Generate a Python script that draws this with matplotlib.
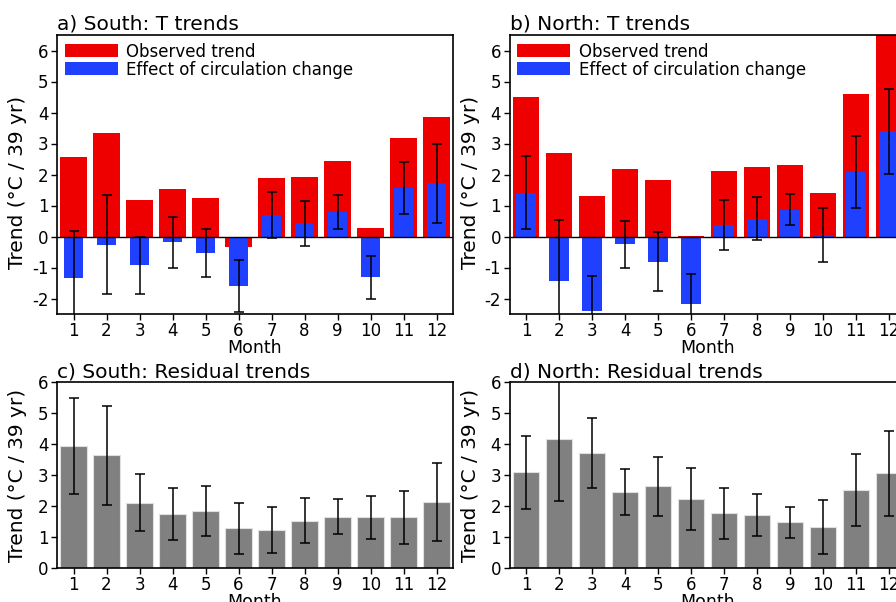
import matplotlib
matplotlib.use("Agg")
import matplotlib.pyplot as plt
import numpy as np

months = list(range(1, 13))
month_labels = [str(m) for m in months]

# Panel a: South T trends
south_obs = [2.55, 3.34, 1.17, 1.53, 1.25, -0.33, 1.88, 1.93, 2.42, 0.28, 3.19, 3.84]
south_circ = [-1.35, -0.27, -0.93, -0.19, -0.53, -1.59, 0.70, 0.42, 0.79, -1.32, 1.56, 1.71]
south_circ_err = [1.53, 1.60, 0.92, 0.83, 0.78, 0.83, 0.75, 0.72, 0.56, 0.70, 0.83, 1.26]

# Panel b: North T trends
north_obs = [4.50, 2.70, 1.32, 2.18, 1.81, 0.03, 2.12, 2.25, 2.32, 1.40, 4.60, 6.80]
north_circ = [1.41, -1.43, -2.39, -0.25, -0.81, -2.17, 0.37, 0.58, 0.86, 0.05, 2.09, 3.40]
north_circ_err = [1.18, 1.96, 1.13, 0.75, 0.94, 0.97, 0.82, 0.68, 0.50, 0.87, 1.16, 1.37]

# Panel c: South residual trends
south_resid = [3.94, 3.63, 2.11, 1.74, 1.83, 1.28, 1.22, 1.53, 1.65, 1.63, 1.63, 2.13]
south_resid_err = [1.55, 1.60, 0.93, 0.83, 0.80, 0.83, 0.75, 0.73, 0.56, 0.69, 0.84, 1.27]

# Panel d: North residual trends
north_resid = [3.09, 4.15, 3.71, 2.44, 2.63, 2.23, 1.76, 1.70, 1.47, 1.33, 2.53, 3.05]
north_resid_err = [1.18, 1.98, 1.14, 0.74, 0.95, 1.00, 0.83, 0.68, 0.49, 0.87, 1.16, 1.36]

RED = "#ee0000"
BLUE = "#2040ff"
GRAY = "#808080"
ylab = "Trend (°C / 39 yr)"

fig = plt.figure(figsize=(8.96, 6.02), dpi=100)
W, H = 896.0, 602.0

def add_ax(left, top, right, bottom):
    return fig.add_axes([left / W, 1 - bottom / H, (right - left) / W, (bottom - top) / H])

ax_a = add_ax(57, 35, 453, 314)
ax_b = add_ax(509.5, 35, 905.5, 314)
ax_c = add_ax(57, 382, 453, 568)
ax_d = add_ax(509.5, 382, 905.5, 568)

def style(ax, title, ylim, yticks):
    ax.set_xlim(0.5, 12.5)
    ax.set_ylim(*ylim)
    ax.set_xticks(months)
    ax.set_xticklabels(month_labels)
    ax.set_yticks(yticks)
    ax.set_yticklabels([str(t) for t in yticks])
    ax.tick_params(direction="out", length=4, width=1, labelsize=12, pad=2,
                   top=False, right=False)
    for s in ax.spines.values():
        s.set_linewidth(1.2)
    ax.set_xlabel("Month", fontsize=12.5, labelpad=-1)
    ax.set_ylabel(ylab, fontsize=14.5)
    ax.text(0.0, 1.005, title, transform=ax.transAxes, fontsize=14.5,
            ha="left", va="bottom")

def trend_panel(ax, obs, circ, err, title):
    ax.bar(months, obs, width=0.8, color=RED, label="Observed trend", zorder=2)
    ax.bar(months, circ, width=0.6, color=BLUE, label="Effect of circulation change", zorder=3)
    ax.errorbar(months, circ, yerr=err, fmt="none", ecolor="black", elinewidth=1.1,
                capsize=3.5, capthick=1.1, zorder=4)
    ax.axhline(0, color="black", lw=1, zorder=5)
    style(ax, title, (-2.5, 6.5), list(range(-2, 7)))
    ax.yaxis.set_label_coords(-0.075, 0.47)
    ax.legend(loc="upper left", frameon=False, fontsize=12, handlelength=3.2,
              handleheight=0.8, handletextpad=0.5, labelspacing=0.0,
              borderaxespad=0.2, borderpad=0.25)

def resid_panel(ax, vals, err, title):
    ax.bar(months, vals, width=0.8, color=GRAY, edgecolor="#e0e0e0", linewidth=0.8, zorder=2)
    ax.errorbar(months, vals, yerr=err, fmt="none", ecolor="black", elinewidth=1.1,
                capsize=3.5, capthick=1.1, zorder=4)
    style(ax, title, (0, 6), list(range(0, 7)))
    ax.yaxis.set_label_coords(-0.075, 0.5)

trend_panel(ax_a, south_obs, south_circ, south_circ_err, "a) South: T trends")
trend_panel(ax_b, north_obs, north_circ, north_circ_err, "b) North: T trends")
resid_panel(ax_c, south_resid, south_resid_err, "c) South: Residual trends")
resid_panel(ax_d, north_resid, north_resid_err, "d) North: Residual trends")

fig.savefig("out.png", dpi=100)
